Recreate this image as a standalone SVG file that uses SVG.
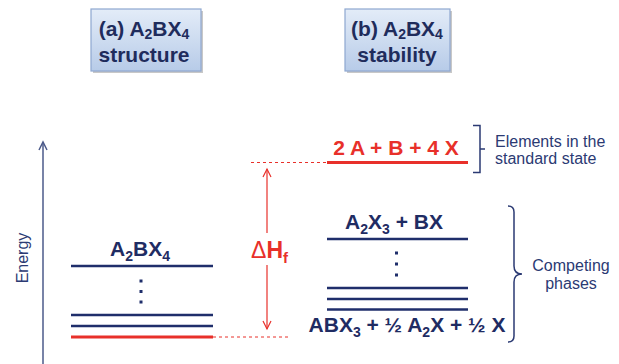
<svg xmlns="http://www.w3.org/2000/svg" width="619" height="364" viewBox="0 0 619 364">
<defs>
<linearGradient id="boxg" x1="0" y1="0" x2="0" y2="1">
<stop offset="0" stop-color="#e3ecf8"/>
<stop offset="1" stop-color="#b7cbe8"/>
</linearGradient>
</defs>
<style>
.box{fill:url(#boxg);stroke:#8ea7d0;stroke-width:1.2}
.shadow{fill:#c8c8c8}
.bt{font-family:"Liberation Sans",Arial,sans-serif;font-weight:bold;font-size:21px;fill:#1f2c5c;text-anchor:middle}
.lt{font-family:"Liberation Sans",Arial,sans-serif;font-weight:bold;font-size:21px;fill:#1f2c63;text-anchor:middle}
.rt{font-family:"Liberation Sans",Arial,sans-serif;font-weight:bold;font-size:21px;fill:#e8302a;text-anchor:middle}
.nt{font-family:"Liberation Sans",Arial,sans-serif;font-size:16px;fill:#2b3a73}
.lvl{stroke:#1f2e6b;stroke-width:2.6;fill:none}
.red{stroke:#e8302a;stroke-width:2.8;fill:none}
.dash{stroke:#e8302a;stroke-width:1;stroke-dasharray:3 3;fill:none}
.arr{stroke:#e8302a;stroke-width:1.2;fill:none}
.dot{fill:#1f2e6b}
.br{stroke:#2b3a73;stroke-width:1.5;fill:none}
</style>

<g id="box-a">
<rect class="shadow" x="93" y="11" width="110" height="62"/>
<rect class="box" x="91" y="9" width="110" height="62"/>
<text class="bt" x="144" y="36">(a) A<tspan dy="3" font-size="14">2</tspan><tspan dy="-3">BX</tspan><tspan dy="3" font-size="14">4</tspan></text>
<text class="bt" x="144" y="62">structure</text>
</g>

<g id="box-b">
<rect class="shadow" x="347" y="11" width="105" height="62"/>
<rect class="box" x="345" y="9" width="105" height="62"/>
<text class="bt" x="397" y="36">(b) A<tspan dy="3" font-size="14">2</tspan><tspan dy="-3">BX</tspan><tspan dy="3" font-size="14">4</tspan></text>
<text class="bt" x="397" y="62">stability</text>
</g>

<g id="energy-axis">
<line x1="43" y1="143" x2="43" y2="364" stroke="#4b5a8a" stroke-width="1.5"/>
<polyline points="39,150 43,142 47,150" stroke="#4b5a8a" stroke-width="1.5" fill="none"/>
<text class="nt" font-size="17" fill="#2e3b7a" text-anchor="middle" transform="translate(28,258) rotate(-90)">Energy</text>
</g>

<g id="left-levels">
<text class="lt" x="140" y="256">A<tspan dy="5" font-size="14">2</tspan><tspan dy="-5">BX</tspan><tspan dy="5" font-size="14">4</tspan></text>
<line class="lvl" x1="71" y1="266" x2="213" y2="266"/>
<rect class="dot" x="139.5" y="279.5" width="3" height="3"/>
<rect class="dot" x="139.5" y="290" width="3" height="3"/>
<rect class="dot" x="139.5" y="300.5" width="3" height="3"/>
<line class="lvl" x1="71" y1="315" x2="213" y2="315"/>
<line class="lvl" x1="71" y1="326" x2="213" y2="326"/>
<line class="red" x1="71" y1="337" x2="213" y2="337"/>
</g>

<g id="elements-level">
<text class="rt" x="396" y="155">2 A + B + 4 X</text>
<line class="red" x1="327" y1="162.5" x2="468" y2="162.5"/>
</g>

<g id="competing-levels">
<text class="lt" x="394" y="229">A<tspan dy="5" font-size="14">2</tspan><tspan dy="-5">X</tspan><tspan dy="5" font-size="14">3</tspan><tspan dy="-5"> + BX</tspan></text>
<line class="lvl" x1="327" y1="239" x2="468" y2="239"/>
<rect class="dot" x="395" y="251.5" width="3" height="3"/>
<rect class="dot" x="395" y="262.5" width="3" height="3"/>
<rect class="dot" x="395" y="273.5" width="3" height="3"/>
<line class="lvl" x1="327" y1="288" x2="468" y2="288"/>
<line class="lvl" x1="327" y1="299" x2="468" y2="299"/>
<line class="lvl" x1="327" y1="309.5" x2="468" y2="309.5"/>
<text class="lt" x="407" y="332">ABX<tspan dy="5" font-size="14">3</tspan><tspan dy="-5"> + ½ A</tspan><tspan dy="5" font-size="14">2</tspan><tspan dy="-5">X + ½ X</tspan></text>
</g>

<g id="labels">
<path class="br" d="M473,125.5 H480 V172.5 H473 M480,149 H485"/>
<text class="nt" x="495" y="146.5">Elements in the</text>
<text class="nt" x="495" y="164">standard state</text>
<path class="br" d="M508,206 Q514,206 514,212 V266 Q514,274 522,274 Q514,274 514,282 V336 Q514,342 508,342"/>
<text class="nt" x="571" y="271" text-anchor="middle">Competing</text>
<text class="nt" x="571" y="289" text-anchor="middle">phases</text>
</g>

<g id="connectors">
<line class="dash" x1="251" y1="162.5" x2="327" y2="162.5"/>
<line class="dash" x1="213" y1="337" x2="289" y2="337"/>
<line class="arr" x1="267" y1="169" x2="267" y2="233"/>
<line class="arr" x1="267" y1="265" x2="267" y2="329"/>
<polyline class="arr" points="263,177 267,169 271,177"/>
<polyline class="arr" points="263,321 267,329 271,321"/>
<text x="251" y="258" font-family="'Liberation Sans',Arial,sans-serif" font-size="23" fill="#e8302a"><tspan>Δ</tspan><tspan font-weight="bold">H</tspan><tspan font-weight="bold" font-size="15" dy="5">f</tspan></text>
</g>
</svg>
